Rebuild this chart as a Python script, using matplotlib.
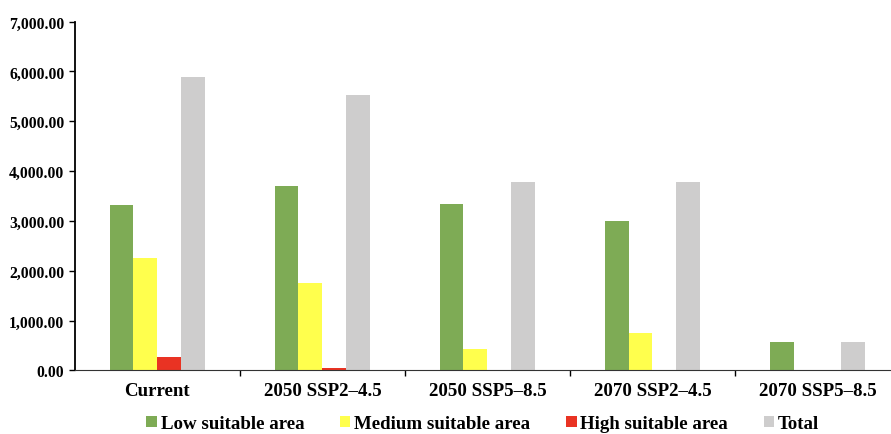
import matplotlib.pyplot as plt
import numpy as np

plt.rcParams['font.family'] = ['Liberation Serif', 'DejaVu Serif']
plt.rcParams['font.weight'] = 'bold'

categories = ['Current', '2050 SSP2\u20134.5', '2050 SSP5\u20138.5', '2070 SSP2\u20134.5', '2070 SSP5\u20138.5']
low = [3330, 3710, 3340, 2990, 565]
medium = [2265, 1760, 430, 755, 0]
high = [265, 45, 0, 0, 0]
total = [5890, 5530, 3775, 3775, 565]

series = [('Low suitable area', low, '#7eab55'),
          ('Medium suitable area', medium, '#ffff4d'),
          ('High suitable area', high, '#e93323'),
          ('Total', total, '#cecdcd')]

fig = plt.figure(figsize=(8.91, 4.35), dpi=100)
ax = fig.add_axes([0.084, 0.146, 0.916, 0.802])

x = np.arange(len(categories))
w = 0.145
for i, (name, vals, col) in enumerate(series):
    ax.bar(x + (i - 1.5) * w, vals, w, color=col, label=name)

ax.set_ylim(0, 7000)
ax.set_xlim(-0.5, -0.5 + 816 / 165)
ax.set_yticks(np.arange(0, 7001, 1000))
ax.set_yticklabels(['{:,.2f}'.format(v) for v in range(0, 7001, 1000)], fontsize=11.3, fontweight='bold')
ax.set_xticks(x)
ax.set_xticklabels(categories, fontsize=13.6, fontweight='bold')
ax.set_xticks(np.arange(0.5, len(categories) - 0.5, 1), minor=True)
ax.tick_params(axis='x', which='major', length=0, pad=8)
ax.tick_params(axis='x', which='minor', length=4, width=1, direction='out')
ax.tick_params(axis='y', length=4, width=1, direction='out')
ax.spines['top'].set_visible(False)
ax.spines['right'].set_visible(False)
ax.spines['left'].set_linewidth(1.3)
ax.spines['bottom'].set_color('#333333')

ax.legend(loc='upper center', bbox_to_anchor=(0.5, -0.08), ncol=4, frameon=False,
          prop={'size': 13.6, 'weight': 'bold'}, handlelength=0.55, handleheight=0.55,
          handletextpad=0.2, columnspacing=1.9)

fig.savefig('out.png', dpi=100)
